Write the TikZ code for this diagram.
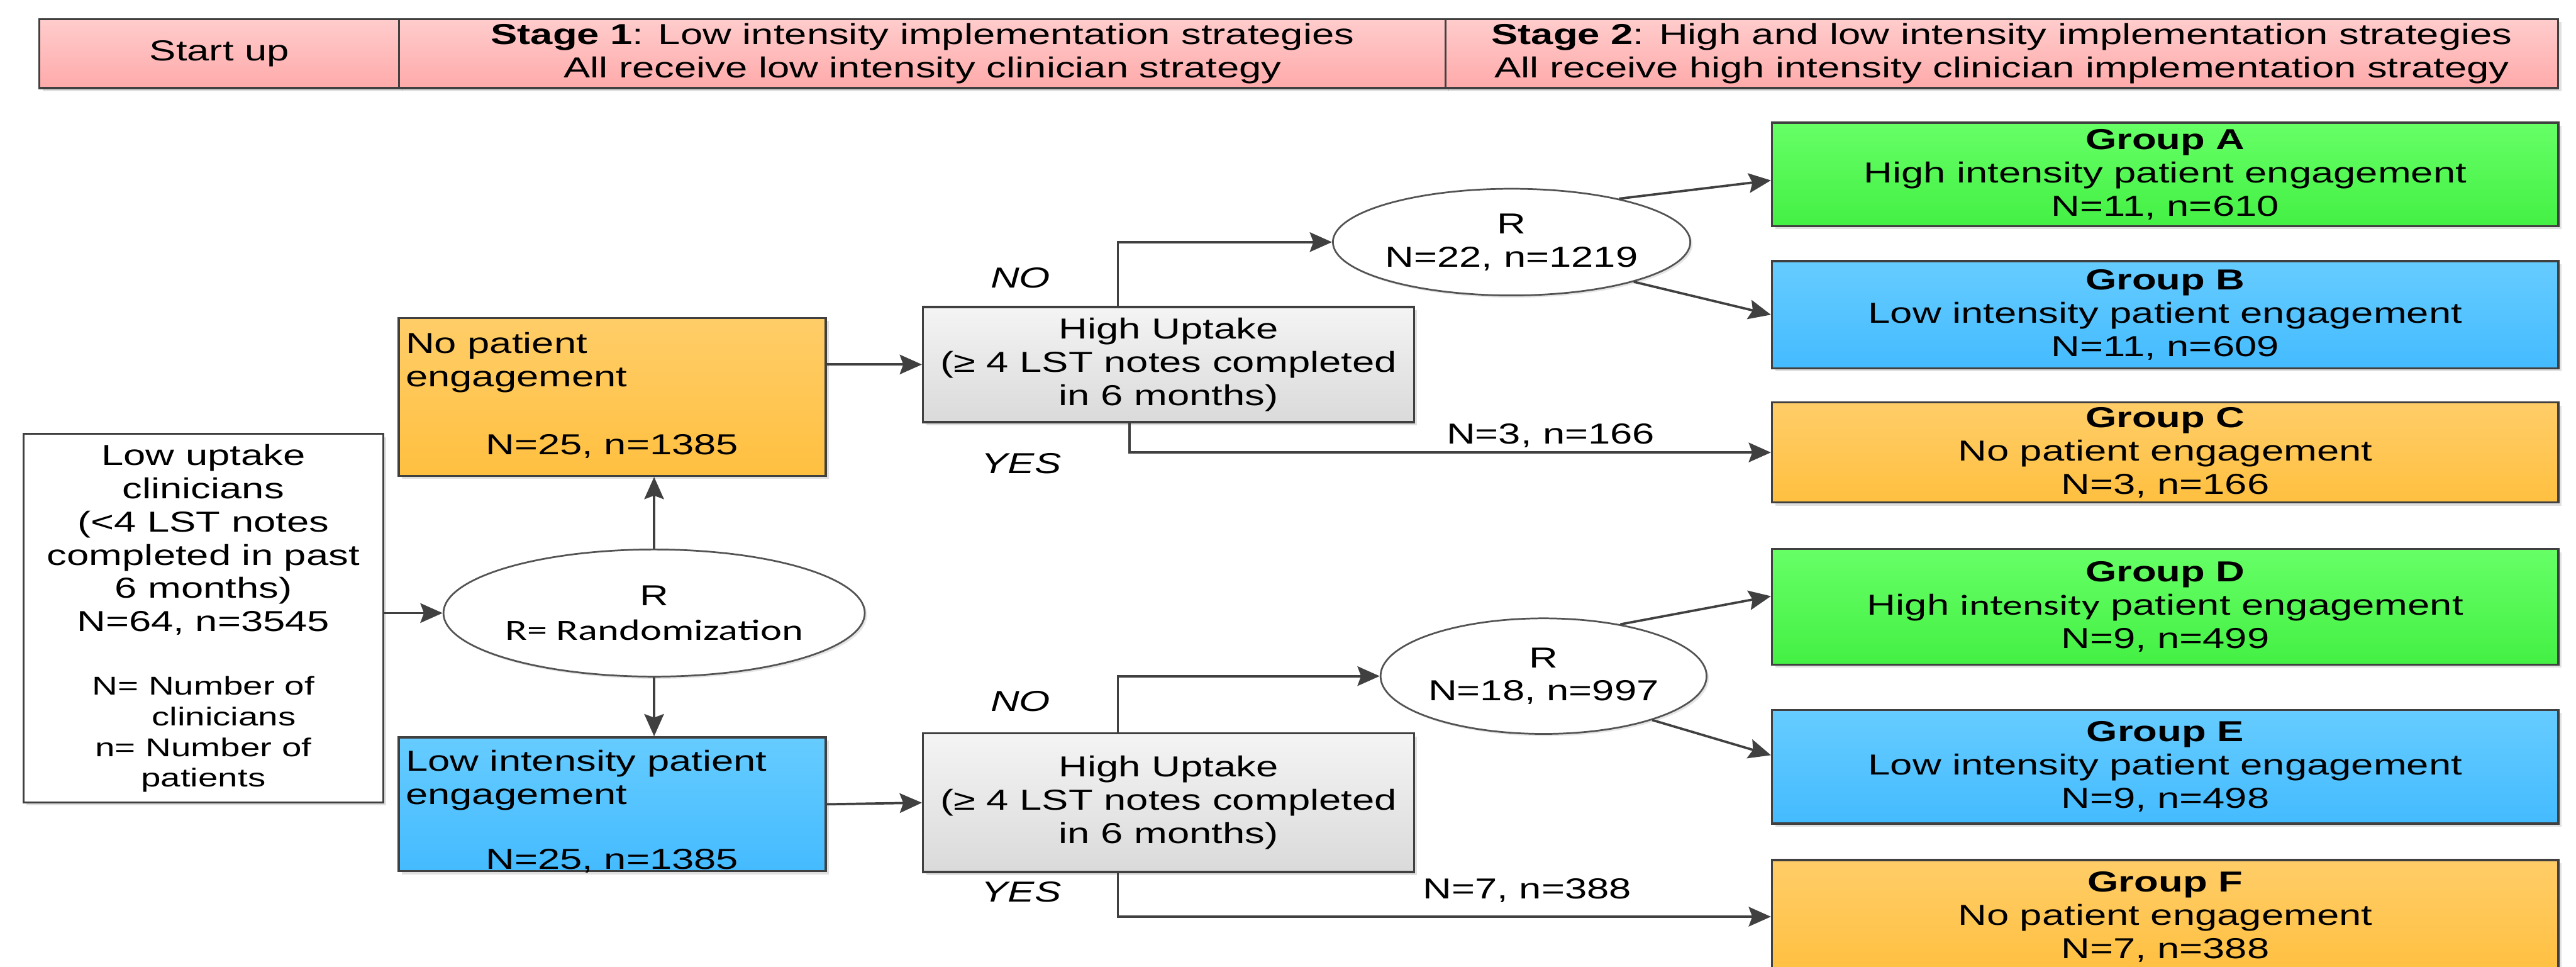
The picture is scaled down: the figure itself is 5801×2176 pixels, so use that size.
\documentclass[tikz,border=0pt]{standalone}
\usepackage{fontspec}
\setmainfont{Liberation Sans}[FakeStretch=1.38]
\newfontfamily\calib{Carlito}[FakeStretch=1.38]
\usetikzlibrary{shapes.geometric,arrows.meta,shadows}

\definecolor{lc}{HTML}{404040}
\definecolor{pinkT}{HTML}{FFCCCC}
\definecolor{pinkB}{HTML}{FFAAAA}
\definecolor{orangeT}{HTML}{FFCD68}
\definecolor{orangeB}{HTML}{FFC040}
\definecolor{greenT}{HTML}{66FF66}
\definecolor{greenB}{HTML}{44F044}
\definecolor{blueT}{HTML}{66CCFF}
\definecolor{blueB}{HTML}{44BBFF}
\definecolor{grayT}{HTML}{F4F4F4}
\definecolor{grayB}{HTML}{DADADA}

\tikzset{
  txt/.style={font=\fontsize{18.5}{21.3}\selectfont, text=black},
  smalltxt/.style={font=\fontsize{16.5}{19.6}\selectfont, text=black},
  label/.style={txt, inner sep=0pt, align=center},
  boxbase/.style={draw=lc, line width=1.4pt, rectangle, inner sep=0pt,
    align=center, txt,
    drop shadow={shadow xshift=0.07cm, shadow yshift=-0.07cm, fill=black, opacity=0.12}},
  hdr/.style={boxbase, top color=pinkT, bottom color=pinkB, minimum height=1.55cm},
  orangebox/.style={boxbase, top color=orangeT, bottom color=orangeB},
  greenbox/.style={boxbase, top color=greenT, bottom color=greenB},
  bluebox/.style={boxbase, top color=blueT, bottom color=blueB},
  graybox/.style={boxbase, top color=grayT, bottom color=grayB},
  whitebox/.style={boxbase, fill=white},
  rnode/.style={ellipse, draw=lc!90, line width=1.1pt, fill=white, inner sep=0pt,
    align=center, txt,
    drop shadow={shadow xshift=0.05cm, shadow yshift=-0.05cm, fill=black, opacity=0.1}},
  grp/.style={minimum width=17.70cm},
  arr/.style={draw=lc, line width=1.5pt,
    -{Stealth[length=0.5cm, width=0.44cm, inset=0.08cm]}},
}

\begin{document}
\begin{tikzpicture}[x=0.01cm, y=-0.01cm]
\path[use as bounding box] (0,0) rectangle (5801,2176);
\clip (0,0) rectangle (5801,2176);
\fill[white] (0,0) rectangle (5801,2176);

% stage header
\node[hdr, minimum width=8.10cm] (hstart) at (494,120.5) {Start up};
\node[hdr, minimum width=23.57cm] (hstage1) at (2077.5,120.5)
  {\textbf{Stage 1}: Low intensity implementation strategies\\All receive low intensity clinician strategy};
\node[hdr, minimum width=25.04cm] (hstage2) at (4508,120.5)
  {\textbf{Stage 2}: High and low intensity implementation strategies\\All receive high intensity clinician implementation strategy};

% starting population
\node[whitebox, minimum width=8.10cm, minimum height=8.29cm] (lowup) at (458,1391.5) {};
\node[label] (lowuptxt) at (458,1215)
  {Low uptake\\clinicians\\(<4 LST notes\\completed in past\\6 months)\\N=64, n=3545};
\node[smalltxt, inner sep=0pt, align=center] (legend) at (458,1653)
  {N= Number of\\\hspace*{0.92cm}clinicians\\n= Number of\\patients};

% first randomization
\node[rnode, minimum width=7.72cm, minimum height=2.86cm] (rmain) at (1473,1380)
  {R\\[1pt]{\calib\fontsize{18.8}{21.5}\selectfont R= Randomization}};

% stage 1 arms
\node[orangebox, minimum width=9.61cm, minimum height=3.55cm] (noeng) at (1378.5,893.5) {};
\node[label, anchor=west, align=left] (noengtxt) at (913,815.5) {No patient\\engagement};
\node[label] (noengn) at (1378.5,1005) {N=25, n=1385};

\node[bluebox, minimum width=9.61cm, minimum height=3.01cm] (loweng) at (1378.5,1810.5) {};
\node[label, anchor=west, align=left] (lowengtxt) at (913,1756.5) {Low intensity patient\\engagement};
\node[label] (lowengn) at (1378.5,1938) {N=25, n=1385};

% uptake checks
\node[graybox, minimum width=11.05cm, minimum height=2.59cm] (hu1) at (2631.5,820.5)
  {High Uptake\\(≥ 4 LST notes completed\\in 6 months)};
\node[graybox, minimum width=11.05cm, minimum height=3.12cm] (hu2) at (2631.5,1807)
  {High Uptake\\(≥ 4 LST notes completed\\in 6 months)};

% second randomizations
\node[rnode, minimum width=6.66cm, minimum height=2.40cm] (r1) at (3404,545) {R\\N=22, n=1219};
\node[rnode, minimum width=6.64cm, minimum height=2.60cm] (r2) at (3476,1522) {R\\N=18, n=997};

% stage 2 groups
\node[greenbox, grp, minimum height=2.33cm] (grpA) at (4876,392.5)
  {\textbf{Group A}\\High intensity patient engagement\\N=11, n=610};
\node[bluebox, grp, minimum height=2.41cm] (grpB) at (4876,708.5)
  {\textbf{Group B}\\Low intensity patient engagement\\N=11, n=609};
\node[orangebox, grp, minimum height=2.25cm] (grpC) at (4876,1018.5)
  {\textbf{Group C}\\No patient engagement\\N=3, n=166};
\node[greenbox, grp, minimum height=2.60cm] (grpD) at (4876,1366)
  {\textbf{Group D}\\High {\calib intensity} patient engagement\\N=9, n=499};
\node[bluebox, grp, minimum height=2.56cm] (grpE) at (4876,1726)
  {\textbf{Group E}\\Low intensity patient engagement\\N=9, n=498};
\node[orangebox, grp, minimum height=2.55cm] (grpF) at (4876,2063.5)
  {\textbf{Group F}\\No patient engagement\\N=7, n=388};

% connectors
\draw[arr] (rmain.west -| lowup.east) -- (rmain.west);
\draw[arr] (rmain.north) -- (rmain.north |- noeng.south);
\draw[arr] (rmain.south) -- (rmain.south |- loweng.north);
\draw[arr] (noeng.east |- hu1.west) -- (hu1.west);
\draw[arr] (loweng.east) -- (hu2.west);

\draw[arr] ([xshift=4.41cm]hu1.north west) |- (r1.west);
\draw[arr] ([xshift=4.67cm]hu1.south west) |- (grpC.west);
\draw[arr] ([xshift=4.41cm]hu2.north west) |- (r2.west);
\draw[arr] ([xshift=4.41cm]hu2.south west) |- (grpF.west);

\draw[arr] (r1.22) -- ([yshift=-0.135cm]grpA.west);
\draw[arr] (r1.-18.5) -- (grpB.west);
\draw[arr] (r2.34.5) -- ([yshift=0.24cm]grpD.west);
\draw[arr] (r2.-22.4) -- ([yshift=0.26cm]grpE.west);

% branch labels
\node[label, font=\fontsize{18.5}{21.3}\selectfont\itshape] (no1) at (2298,625) {NO};
\node[label, font=\fontsize{18.5}{21.3}\selectfont\itshape] (yes1) at (2300,1044) {YES};
\node[label, font=\fontsize{18.5}{21.3}\selectfont\itshape] (no2) at (2298,1579) {NO};
\node[label, font=\fontsize{18.5}{21.3}\selectfont\itshape] (yes2) at (2300,2008) {YES};
\node[label] (cnt1) at (3492,981) {N=3, n=166};
\node[label] (cnt2) at (3439,2005) {N=7, n=388};
\end{tikzpicture}
\end{document}
